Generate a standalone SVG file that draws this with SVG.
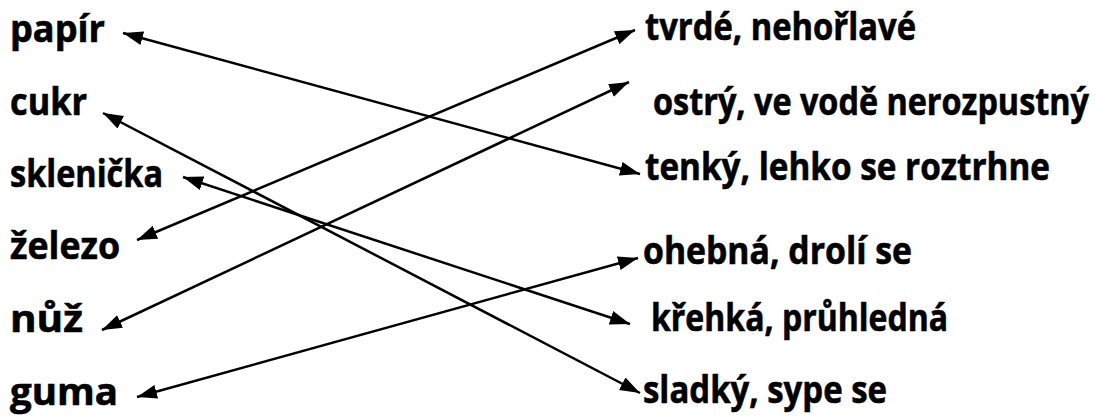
<svg xmlns="http://www.w3.org/2000/svg" width="1106" height="417" viewBox="0 0 1106 417">
<style>
text{font-family:"Open Sans","Liberation Sans",sans-serif;font-weight:700;font-size:37px;fill:#000;stroke:#000;stroke-width:0.6}
.c line{stroke:#000;stroke-width:2.5;marker-start:url(#ah);marker-end:url(#ah)}
</style>
<defs>
<marker id="ah" markerUnits="userSpaceOnUse" markerWidth="21" markerHeight="16" viewBox="0 0 21 16" refX="20" refY="8" orient="auto-start-reverse">
<path d="M0,1 L20,8 L0,15 Z" fill="#000"/>
</marker>
</defs>
<rect width="1106" height="417" fill="#fff"/>
<g id="left">
<g id="papir"><text x="10" y="42" textLength="95" lengthAdjust="spacingAndGlyphs">papír</text></g>
<g id="cukr"><text x="10" y="115" textLength="77" lengthAdjust="spacingAndGlyphs">cukr</text></g>
<g id="sklenicka"><text x="10" y="187" textLength="153" lengthAdjust="spacingAndGlyphs">sklenička</text></g>
<g id="zelezo"><text x="10" y="259" textLength="110" lengthAdjust="spacingAndGlyphs">železo</text></g>
<g id="nuz"><text x="10" y="332" textLength="73" lengthAdjust="spacingAndGlyphs">nůž</text></g>
<g id="guma"><text x="10" y="405" textLength="108" lengthAdjust="spacingAndGlyphs">guma</text></g>
</g>
<g id="right">
<g id="tvrde"><text x="645" y="40" textLength="271" lengthAdjust="spacingAndGlyphs">tvrdé, nehořlavé</text></g>
<g id="ostry"><text transform="translate(653,115) scale(0.8,1)" x="0" y="0" textLength="545" lengthAdjust="spacingAndGlyphs">ostrý, ve vodě nerozpustný</text></g>
<g id="tenky"><text x="645" y="180" textLength="405" lengthAdjust="spacingAndGlyphs">tenký, lehko se roztrhne</text></g>
<g id="ohebna"><text x="643" y="264" textLength="269" lengthAdjust="spacingAndGlyphs">ohebná, drolí se</text></g>
<g id="krehka"><text x="651" y="331" textLength="297" lengthAdjust="spacingAndGlyphs">křehká, průhledná</text></g>
<g id="sladky"><text x="643" y="403" textLength="244" lengthAdjust="spacingAndGlyphs">sladký, sype se</text></g>
</g>
<g id="connectors" class="c">
<line x1="123" y1="33" x2="640" y2="174"/>
<line x1="103" y1="113" x2="640" y2="393"/>
<line x1="183" y1="177" x2="630" y2="324"/>
<line x1="137" y1="240" x2="635" y2="30"/>
<line x1="102" y1="330" x2="629" y2="82"/>
<line x1="137" y1="397" x2="638" y2="258"/>
</g>
</svg>
